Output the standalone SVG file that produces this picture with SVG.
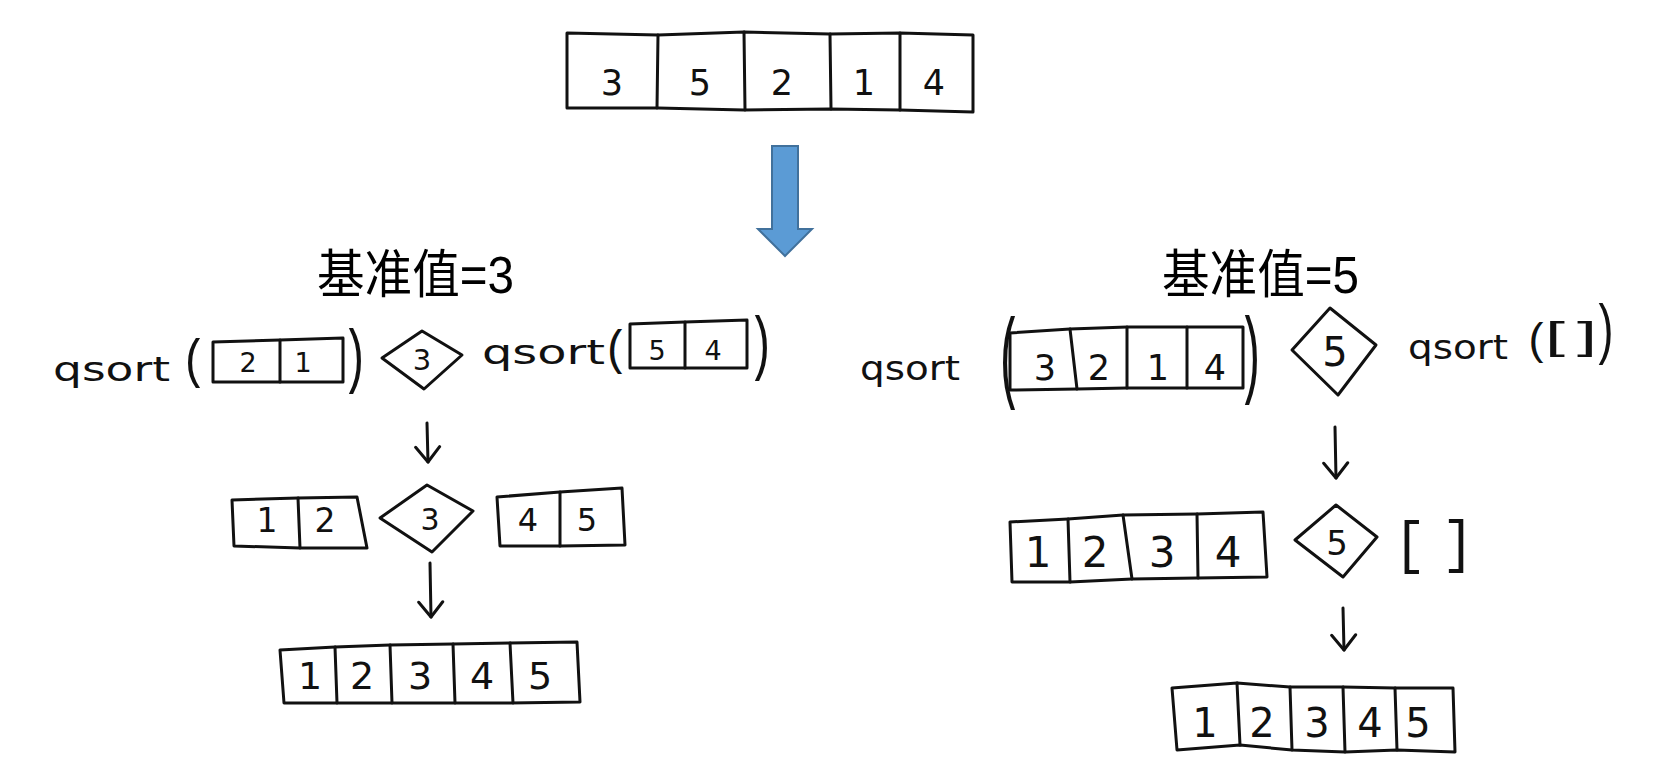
<svg xmlns="http://www.w3.org/2000/svg" width="1656" height="782" viewBox="0 0 1656 782">
<style>
.hd{fill:none;stroke:#111;stroke-width:3;stroke-linejoin:round;stroke-linecap:round}
.dm{fill:#fff;stroke:#111;stroke-width:3;stroke-linejoin:round}
.dg{font-family:"DejaVu Sans",sans-serif;fill:#111;text-anchor:middle}
.qs{font-family:"DejaVu Sans",sans-serif;fill:#111;font-size:34px}
.pr{font-family:"Liberation Mono",monospace;fill:#111;text-anchor:middle;font-size:45px}
.ps{font-family:"Liberation Sans",sans-serif;fill:#111;text-anchor:middle;font-size:45px}
.tt{font-family:"Liberation Sans","Noto Sans CJK SC",sans-serif;font-size:52px;fill:#000}
.cn{fill:none;stroke:#111;stroke-width:3;stroke-linecap:round}
</style>
<defs>
<marker id="v" markerUnits="userSpaceOnUse" markerWidth="30" markerHeight="30" viewBox="0 0 30 30" refX="28" refY="15" orient="auto">
<path d="M13,3 L28,15 L13,27" fill="none" stroke="#111" stroke-width="3" stroke-linecap="round" stroke-linejoin="round"/>
</marker>
</defs>
<rect width="1656" height="782" fill="#fff"/>

<g id="input">
<polygon class="hd" points="567,33 658,35 744,32 830,34 900,33 973,35 973,112 900,110 830,109 744,110 658,108 567,108"/>
<path class="hd" d="M658,35 L657,108 M744,32 L745,110 M830,34 L831,109 M900,33 L900,110"/>
<g class="dg" font-size="35"><text x="612" y="95">3</text><text x="700" y="95">5</text><text x="782" y="95">2</text><text x="864" y="95">1</text><text x="934" y="95">4</text></g>
</g>

<g id="connectors">
<polygon points="772,146 798,146 798,229 812,229 785,256 758,229 772,229" fill="#5B9BD5" stroke="#41719C" stroke-width="2"/>
<path class="cn" d="M427,423 L428,462" marker-end="url(#v)"/>
<path class="cn" d="M430,563 L431,617" marker-end="url(#v)"/>
<path class="cn" d="M1335,427 L1336,478" marker-end="url(#v)"/>
<path class="cn" d="M1343,608 L1344,650" marker-end="url(#v)"/>
</g>

<g id="title-left"><text class="tt" x="317" y="293" textLength="197" lengthAdjust="spacingAndGlyphs">基准值=3</text></g>
<g id="title-right"><text class="tt" x="1162" y="293" textLength="197" lengthAdjust="spacingAndGlyphs">基准值=5</text></g>

<g id="left-step1">
<text class="qs" x="53" y="381" textLength="117" lengthAdjust="spacingAndGlyphs">qsort</text>
<text class="pr" x="0" y="0" transform="translate(194,376.6) scale(1,1.206)">(</text>
<polygon class="hd" points="213,342 280,340 343,338 343,382 280,382 213,382"/>
<path class="hd" d="M280,340 L280,382"/>
<g class="dg" font-size="27"><text x="248" y="372">2</text><text x="303" y="372">1</text></g>
<text class="pr" x="0" y="0" transform="translate(355,378.6) scale(1,1.554)">)</text>
<polygon class="dm" points="382,358 422,331 462,355 424,389"/>
<text class="dg" font-size="29" x="422" y="370">3</text>
<text class="qs" x="482" y="364" textLength="123" lengthAdjust="spacingAndGlyphs">qsort</text>
<text class="pr" x="0" y="0" transform="translate(616,363.8) scale(1,1.067)">(</text>
<polygon class="hd" points="630,324 685,322 747,320 747,368 685,368 630,368"/>
<path class="hd" d="M685,322 L685,368"/>
<g class="dg" font-size="27"><text x="657" y="360">5</text><text x="713" y="360">4</text></g>
<text class="pr" x="0" y="0" transform="translate(761,366.4) scale(1,1.578)">)</text>
</g>

<g id="left-step2">
<polygon class="hd" points="232,500 298,498 357,497 367,548 300,548 234,546"/>
<path class="hd" d="M298,498 L300,548"/>
<g class="dg" font-size="33"><text x="267" y="532">1</text><text x="325" y="532">2</text></g>
<polygon class="dm" points="380,518 427,485 473,511 432,552"/>
<text class="dg" font-size="30" x="430" y="530">3</text>
<polygon class="hd" points="497,497 560,492 622,488 625,545 560,546 500,546"/>
<path class="hd" d="M560,492 L560,546"/>
<g class="dg" font-size="32"><text x="528" y="531">4</text><text x="587" y="531">5</text></g>
</g>

<g id="left-result">
<polygon class="hd" points="280,650 335,647 390,645 453,644 510,643 577,642 580,702 510,703 453,703 390,703 335,703 284,703"/>
<path class="hd" d="M335,647 L337,703 M390,645 L392,703 M453,644 L455,703 M510,643 L513,703"/>
<g class="dg" font-size="38"><text x="310" y="689">1</text><text x="362" y="689">2</text><text x="420" y="689">3</text><text x="482" y="689">4</text><text x="540" y="689">5</text></g>
</g>

<g id="right-step1">
<text class="qs" x="860" y="380" textLength="100" lengthAdjust="spacingAndGlyphs">qsort</text>
<text class="pr" x="0" y="0" transform="translate(1009,389) scale(1,2.204)">(</text>
<polygon class="hd" points="1010,333 1070,329 1127,327 1187,327 1243,327 1243,388 1187,388 1127,388 1077,389 1010,390"/>
<path class="hd" d="M1070,329 L1077,389 M1127,327 L1127,388 M1187,327 L1187,388"/>
<g class="dg" font-size="35"><text x="1045" y="380">3</text><text x="1099" y="380">2</text><text x="1158" y="380">1</text><text x="1215" y="380">4</text></g>
<text class="pr" x="0" y="0" transform="translate(1251,384.7) scale(1,2.135)">)</text>
<polygon class="dm" points="1292,350 1330,308 1376,345 1338,395"/>
<text class="dg" font-size="40" x="1335" y="366">5</text>
<text class="qs" x="1408" y="359" font-size="29" textLength="100" lengthAdjust="spacingAndGlyphs">qsort</text>
<text class="ps" x="1536" y="354" font-size="38">(</text>
<text class="ps" x="0" y="0" font-size="22" transform="translate(1555,348.9) scale(1.6,0.88)">[</text>
<text class="ps" x="0" y="0" font-size="22" transform="translate(1587,348.9) scale(1.6,0.88)">]</text>
<text class="ps" x="0" y="0" transform="translate(1606,350.9) scale(1,1.487)">)</text>
</g>

<g id="right-step2">
<polygon class="hd" points="1010,522 1068,519 1123,515 1197,514 1263,512 1267,577 1197,578 1132,579 1070,582 1012,582"/>
<path class="hd" d="M1068,519 L1070,582 M1123,515 L1132,579 M1197,514 L1198,578"/>
<g class="dg" font-size="42"><text x="1038" y="567">1</text><text x="1095" y="567">2</text><text x="1162" y="567">3</text><text x="1228" y="567">4</text></g>
<polygon class="dm" points="1295,540 1336,505 1377,537 1343,577"/>
<text class="dg" font-size="34" x="1337" y="555">5</text>
<text class="pr" x="0" y="0" transform="translate(1410,562) scale(1.2,1.276)">[</text>
<text class="pr" x="0" y="0" transform="translate(1458,561) scale(1.2,1.276)">]</text>
</g>

<g id="right-result">
<polygon class="hd" points="1172,688 1237,683 1290,687 1343,687 1395,688 1453,688 1455,752 1397,750 1345,752 1292,750 1240,745 1177,750"/>
<path class="hd" d="M1237,683 L1240,745 M1290,687 L1292,750 M1343,687 L1345,752 M1395,688 L1397,750"/>
<g class="dg" font-size="40"><text x="1205" y="737">1</text><text x="1262" y="737">2</text><text x="1317" y="737">3</text><text x="1370" y="737">4</text><text x="1418" y="737">5</text></g>
</g>
</svg>
